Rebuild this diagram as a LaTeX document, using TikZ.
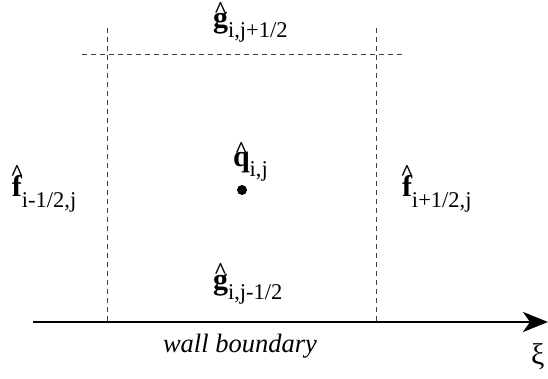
\documentclass[tikz,border=0pt]{standalone}
\usepackage{fontspec}
\setmainfont{Liberation Serif}
\usetikzlibrary{arrows.meta}
\newcommand\hatx[1]{\setbox0\hbox{#1}\setbox2\hbox{\fontsize{23}{23}\selectfont\bfseries\char"5E}%
\rlap{\hbox to\wd0{\hss\raise\dimexpr\ht0-4.5pt\relax\box2\hss}}\box0}
\newcommand\fluxlbl[2]{{\fontsize{30}{30}\selectfont\bfseries\hatx{#1}}\raisebox{-10pt}{\fontsize{22.5}{22.5}\selectfont #2}}
\tikzset{
  gridline/.style={draw=black!75, line width=0.8pt, dash pattern=on 5pt off 4pt},
  lbl/.style={anchor=base west, inner sep=0pt, outer sep=0pt},
  axis/.style={line width=2.6pt, -{Stealth[length=25pt,width=20pt,inset=7pt]}},
}
\begin{document}
\begin{tikzpicture}[x=1pt,y=-1pt]
\useasboundingbox (0,0) rectangle (548,379);
% grid lines
\coordinate (lt) at (107,28);
\coordinate (lb) at (107,322);
\coordinate (rt) at (376,28);
\coordinate (rb) at (376,322);
\coordinate (hl) at (82,54);
\coordinate (hr) at (402,54);
\draw[gridline] (lt) -- (lb);
\draw[gridline] (rt) -- (rb);
\draw[gridline] (hl) -- (hr);
% axis
\coordinate (axs) at (33,322);
\coordinate (axe) at (548,322);
\draw[axis] (axs) -- (axe);
% labels
\node[lbl] (gtop) at (213,28) {\fluxlbl{g}{i,j+1/2}};
\node[lbl] (gbot) at (213,289) {\fluxlbl{g}{i,j-1/2}};
\node[lbl] (fl) at (12,197) {\fluxlbl{f}{i-1/2,j}};
\node[lbl] (fr) at (402,197) {\fluxlbl{f}{i+1/2,j}};
\node[lbl] (q) at (233,167) {\fluxlbl{q}{i,j}};
\fill (242,190) circle (5pt) node[inner sep=0pt] (qdot) {};
\node[lbl] (wall) at (163,352) {\fontsize{26.5}{26.5}\selectfont\itshape wall boundary};
\node[lbl] (xi) at (531,364) {\fontsize{30}{30}\selectfont ξ};
\end{tikzpicture}
\end{document}
